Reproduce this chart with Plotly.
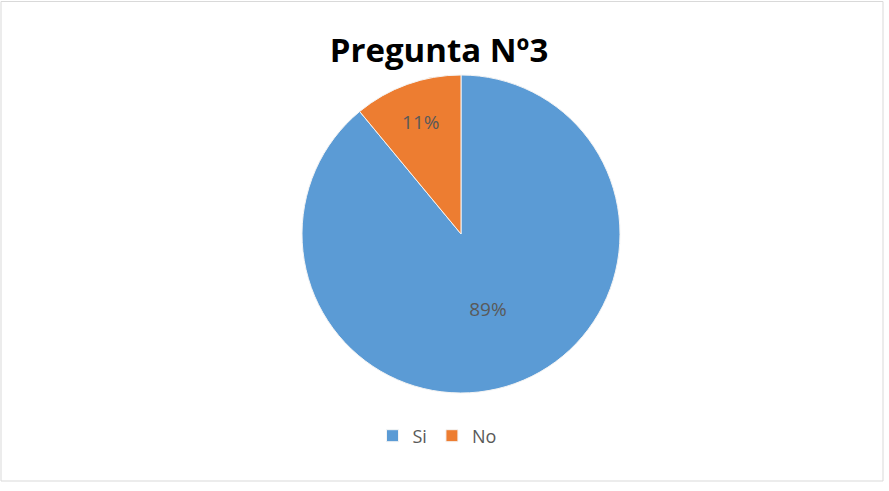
import plotly.graph_objects as go

labels = ["Si", "No"]
values = [89, 11]
colors = ["#5B9BD5", "#ED7D31"]
title_text = "Pregunta Nº3"

W, H = 889, 491
cx, cy, r = 461, 234, 159

fig = go.Figure(go.Pie(
    labels=labels,
    values=values,
    sort=False,
    direction="clockwise",
    rotation=0,
    marker=dict(colors=colors, line=dict(color="#F4F4F4", width=1)),
    textinfo="percent",
    texttemplate="%{percent:.0%}",
    textposition="inside",
    insidetextorientation="horizontal",
    textfont=dict(family="Open Sans, sans-serif", size=19, color="#595959"),
    hoverinfo="label+percent",
    domain=dict(x=[(cx - r) / W, (cx + r) / W], y=[(H - cy - r) / H, (H - cy + r) / H]),
))

fig.update_layout(
    width=W, height=H,
    margin=dict(l=0, r=0, t=0, b=0),
    paper_bgcolor="white",
    plot_bgcolor="white",
    title=dict(text="<b>" + title_text + "</b>", x=439 / W, xanchor="center",
               y=1 - 50 / H, yanchor="middle", yref="paper",
               font=dict(family="Open Sans, sans-serif", size=33, color="#000000")),
    showlegend=True,
    legend=dict(orientation="h", x=437 / W, xanchor="center", y=(H - 436) / H, yanchor="middle",
                font=dict(family="Open Sans, sans-serif", size=18, color="#595959"),
                itemwidth=30, tracegroupgap=0),
    shapes=[dict(type="rect", xref="paper", yref="paper",
                 x0=1 / W, x1=883 / W, y0=(H - 481) / H, y1=(H - 1.5) / H,
                 line=dict(color="#D9D9D9", width=1), fillcolor="rgba(0,0,0,0)")],
)

fig.write_html("out.html")
